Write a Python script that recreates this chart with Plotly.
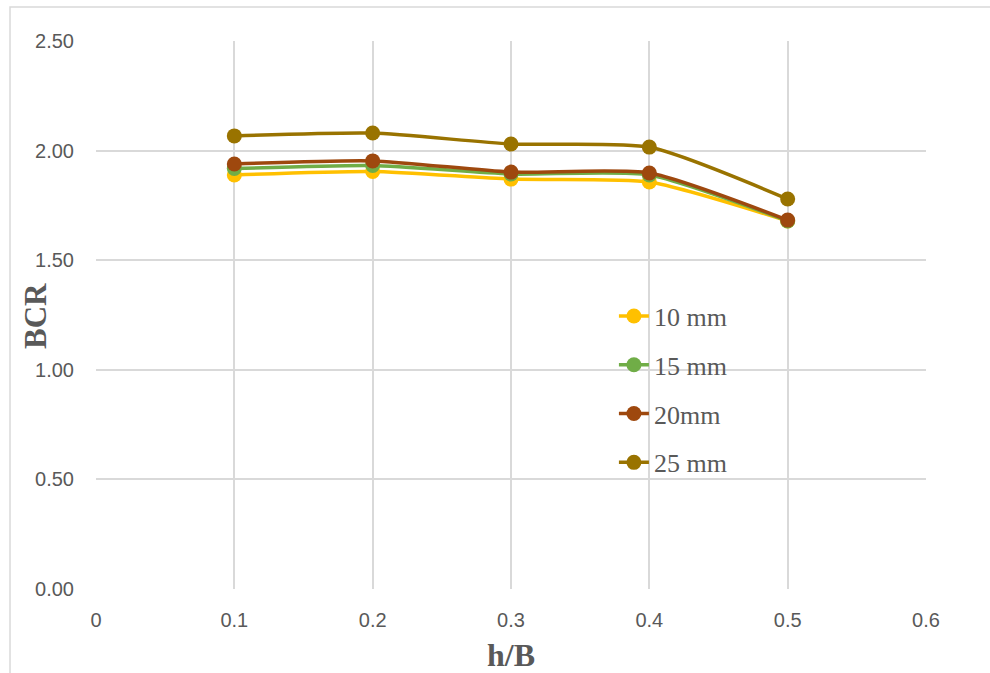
import plotly.graph_objects as go

x_vals = [0.1, 0.2, 0.3, 0.4, 0.5]
series_names = ["10 mm", "15 mm", "20mm", "25 mm"]
bcr_10 = [1.889, 1.905, 1.870, 1.857, 1.679]
bcr_15 = [1.918, 1.932, 1.893, 1.889, 1.679]
bcr_20 = [1.939, 1.953, 1.902, 1.898, 1.683]
bcr_25 = [2.067, 2.080, 2.030, 2.016, 1.779]
colors = ["#FFC000", "#70AD47", "#9E480E", "#997300"]

fig = go.Figure()
for i, (name, ys) in enumerate(zip(series_names, [bcr_10, bcr_15, bcr_20, bcr_25])):
    fig.add_trace(go.Scatter(
        x=x_vals, y=ys, name=name, mode="lines+markers",
        line=dict(color=colors[i], width=3.5, shape="spline", smoothing=0.6),
        marker=dict(color=colors[i], size=15),
        legendgroup=f"g{i}",
    ))

grid = "#D9D9D9"
tickfont = dict(family="Liberation Sans, Arial", size=20, color="#595959")
serif = "Liberation Serif, Times New Roman"
fig.update_layout(
    width=990, height=673,
    margin=dict(l=96, r=64, t=41, b=84),
    paper_bgcolor="white", plot_bgcolor="white",
    showlegend=True,
    legend=dict(
        x=0.624, y=0.541, xanchor="left", yanchor="top",
        font=dict(family=serif, size=26, color="#595959"),
        bgcolor="rgba(0,0,0,0)", traceorder="grouped", tracegroupgap=12,
    ),
    xaxis=dict(
        range=[0, 0.6], tickvals=[0, 0.1, 0.2, 0.3, 0.4, 0.5, 0.6],
        ticktext=["0", "0.1", "0.2", "0.3", "0.4", "0.5", "0.6"],
        showgrid=True, gridcolor=grid, gridwidth=1.5, zeroline=False,
        showline=False, tickfont=tickfont, ticks="", ticklabelstandoff=17,
    ),
    yaxis=dict(
        range=[0, 2.5], tickvals=[0, 0.5, 1.0, 1.5, 2.0, 2.5],
        ticktext=["0.00", "0.50", "1.00", "1.50", "2.00", "2.50"],
        showgrid=True, gridcolor=grid, gridwidth=1.5, zeroline=False,
        showline=False, tickfont=tickfont, ticks="", ticklabelstandoff=21,
    ),
    annotations=[
        dict(text="<b>h/B</b>", xref="paper", yref="paper", x=(511 - 96) / 830, y=(589 - 655) / 548,
             showarrow=False, xanchor="center", yanchor="middle",
             font=dict(family=serif, size=32, color="#595959")),
        dict(text="<b>BCR</b>", xref="paper", yref="paper", x=(35 - 96) / 830, y=(589 - 316) / 548,
             showarrow=False, xanchor="center", yanchor="middle", textangle=-90,
             font=dict(family=serif, size=31, color="#595959")),
    ],
    shapes=[dict(type="rect", xref="paper", yref="paper", x0=-0.1036, x1=1.1, y0=-0.2, y1=1.062,
                 line=dict(color="#D9D9D9", width=1.5), layer="below")],
)
fig.write_html("out.html")
